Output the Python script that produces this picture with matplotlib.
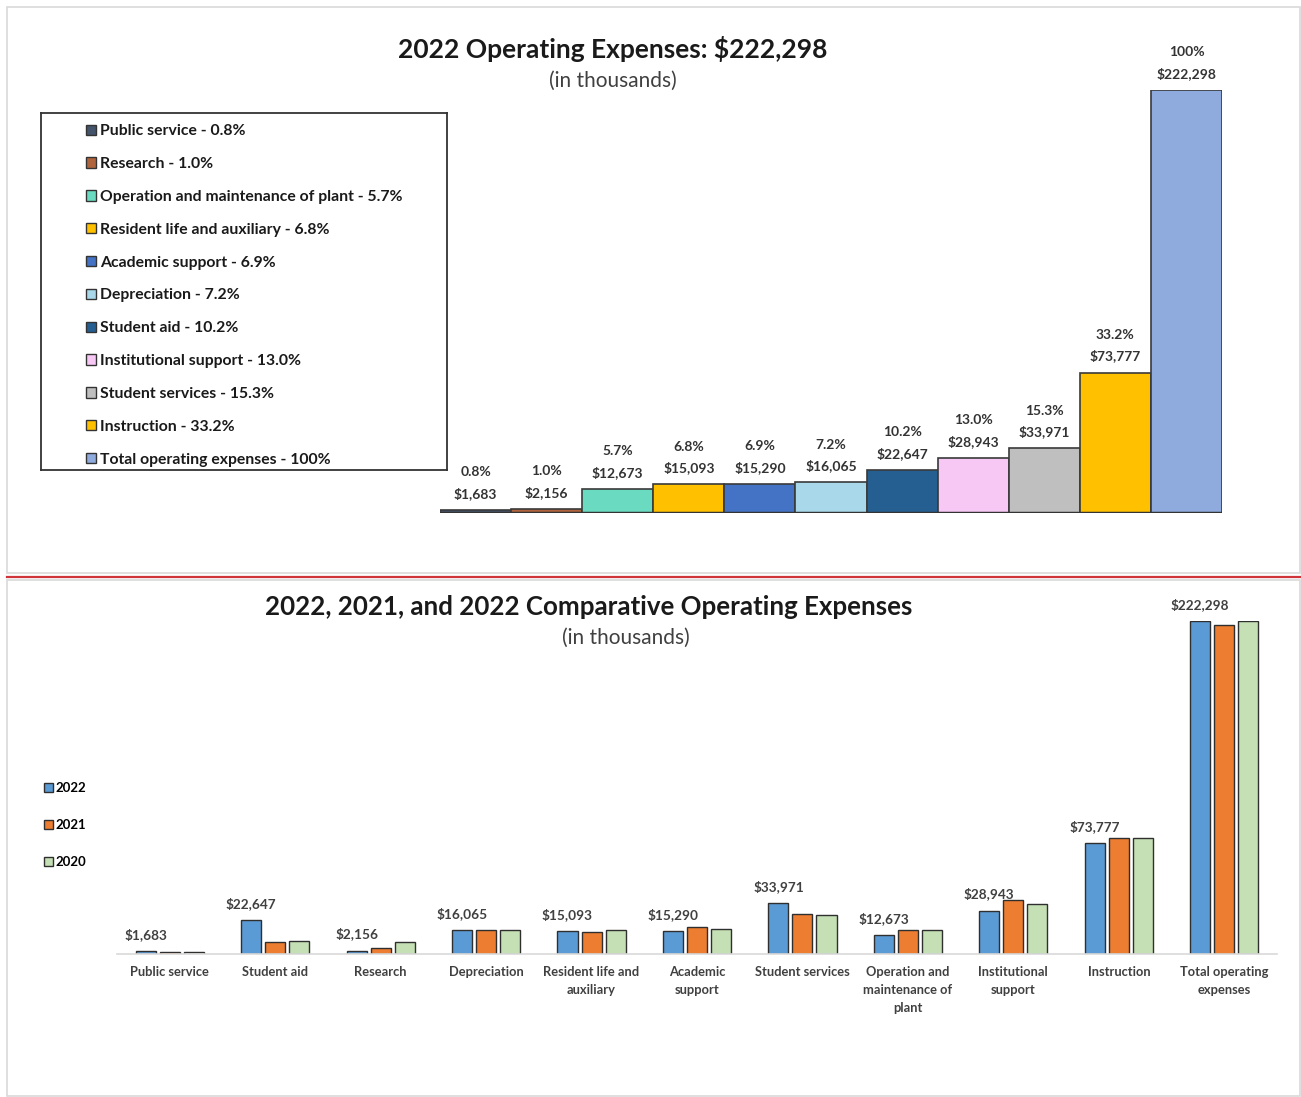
import matplotlib.pyplot as plt
from matplotlib.patches import Rectangle, Patch
from matplotlib.lines import Line2D
import numpy as np

plt.rcParams['font.family'] = ['Lato', 'DejaVu Sans']

# top chart data (sorted small -> large)
top_names = ['Public service', 'Research', 'Operation and maintenance of plant',
             'Resident life and auxiliary', 'Academic support', 'Depreciation',
             'Student aid', 'Institutional support', 'Student services',
             'Instruction', 'Total operating expenses']
top_values = [1683, 2156, 12673, 15093, 15290, 16065, 22647, 28943, 33971, 73777, 222298]
top_pcts = ['0.8%', '1.0%', '5.7%', '6.8%', '6.9%', '7.2%', '10.2%', '13.0%', '15.3%', '33.2%', '100%']
top_colors = ['#44546A', '#B0643C', '#6ADBC0', '#FFC000', '#4472C4', '#A9D8EA',
              '#255E91', '#F8C8F4', '#BFBFBF', '#FFC000', '#8FAADC']

# bottom chart data
cats = ['Public service', 'Student aid', 'Research', 'Depreciation',
        'Resident life and\nauxiliary', 'Academic\nsupport', 'Student services',
        'Operation and\nmaintenance of\nplant', 'Institutional\nsupport',
        'Instruction', 'Total operating\nexpenses']
v2022 = [1683, 22647, 2156, 16065, 15093, 15290, 33971, 12673, 28943, 73777, 222298]
v2021 = [1500, 7900, 3800, 16000, 14600, 18000, 26400, 16200, 36300, 77600, 219800]
v2020 = [1500, 8500, 8300, 16000, 16100, 16500, 25800, 16200, 33700, 77200, 222100]
years = ['2022', '2021', '2020']
year_colors = ['#5B9BD5', '#ED7D31', '#C5E0B4']

W, H = 1301, 1097
fig = plt.figure(figsize=(W / 100, H / 100), dpi=100)

def fx(px):
    return px / W

def fy(py):
    return 1 - py / H

# panel borders and red separator
fig.patches.append(Rectangle((fx(7), fy(573)), fx(1293), (566) / H, transform=fig.transFigure,
                             fill=False, edgecolor='#D9D9D9', lw=1.2))
fig.patches.append(Rectangle((fx(7), fy(1096)), fx(1293), (516) / H, transform=fig.transFigure,
                             fill=False, edgecolor='#D9D9D9', lw=1.2))
fig.lines.append(Line2D([fx(7), 1], [fy(577), fy(577)], transform=fig.transFigure,
                        color='#D0343A', lw=1.6))

# ---- top chart ----
fig.text(fx(613), fy(49), '2022 Operating Expenses: $222,298', ha='center', va='center',
         fontsize=19, fontweight='bold', color='#1a1a1a')
fig.text(fx(613), fy(81), '(in thousands)', ha='center', va='center', fontsize=15, color='#404040')

ax = fig.add_axes([fx(440), fy(513), fx(782), (513 - 90) / H])
x = np.arange(len(top_values))
bars = ax.bar(x, top_values, width=1.0, color=top_colors, edgecolor='#3a3a3a', linewidth=1.2)
ax.set_xlim(-0.5, len(top_values) - 0.5)
ax.set_ylim(0, max(top_values))
ax.axis('off')
ax.axhline(0, color='#333333', lw=2.5)
for i, v in enumerate(top_values):
    ax.annotate(f'${v:,}', (i, v), xytext=(0, 12), textcoords='offset points',
                ha='center', va='center', fontsize=10, fontweight='bold', color='#333333')
    ax.annotate(top_pcts[i], (i, v), xytext=(0, 27), textcoords='offset points',
                ha='center', va='center', fontsize=10, fontweight='bold', color='#333333')

# legend box
lax = fig.add_axes([fx(41), fy(470), fx(406), (470 - 113) / H])
lax.set_xticks([])
lax.set_yticks([])
for s in lax.spines.values():
    s.set_color('#333333')
    s.set_linewidth(1.3)
handles = [Patch(facecolor=c, edgecolor='#333333', linewidth=1) for c in top_colors]
labels = [f'{n} - {p}' for n, p in zip(top_names, top_pcts)]
lax.legend(handles, labels, loc='upper left', bbox_to_anchor=(0.075, 1.008), frameon=False,
           handlelength=0.65, handleheight=0.65, handletextpad=0.25,
           labelspacing=1.2, labelcolor='#1a1a1a', prop={'weight': 'bold', 'size': 11.3})

# ---- bottom chart ----
fig.text(fx(589), fy(607), '2022, 2021, and 2022 Comparative Operating Expenses', ha='center',
         va='center', fontsize=18.6, fontweight='bold', color='#1a1a1a')
fig.text(fx(626), fy(638), '(in thousands)', ha='center', va='center', fontsize=15, color='#404040')

bx = fig.add_axes([fx(117), fy(954), fx(1160), (954 - 621) / H])
xc = np.arange(len(cats))
off = 0.228
bw = 0.19
for k, (vals, col) in enumerate(zip([v2022, v2021, v2020], year_colors)):
    bx.bar(xc + (k - 1) * off, vals, width=bw, color=col, edgecolor='#2f2f2f',
           linewidth=1.0, label=years[k])
for i, v in enumerate(v2022):
    bx.annotate(f'${v:,}', (i - off, v), xytext=(0, 12), textcoords='offset points',
                ha='center', va='center', fontsize=9.8, fontweight='bold', color='#404040')
bx.set_xlim(-0.5, len(cats) - 0.5)
bx.set_ylim(0, max(v2022))
bx.set_yticks([])
bx.set_xticks(xc)
bx.set_xticklabels(cats, fontsize=9.3, fontweight='bold', color='#404040', linespacing=1.55)
bx.tick_params(axis='x', length=0, pad=9)
for s in ['top', 'right', 'left']:
    bx.spines[s].set_visible(False)
bx.spines['bottom'].set_color('#D9D9D9')
bx.spines['bottom'].set_linewidth(1.2)
bx.patch.set_alpha(0)

leg = bx.legend(loc='upper left', frameon=False, handlelength=0.7, handleheight=0.7,
                handletextpad=0.2, labelspacing=1.9, prop={'weight': 'bold', 'size': 9.5})
leg.set_bbox_to_anchor((fx(32), fy(770)), transform=fig.transFigure)

fig.savefig('out.png', dpi=100, facecolor='white')
